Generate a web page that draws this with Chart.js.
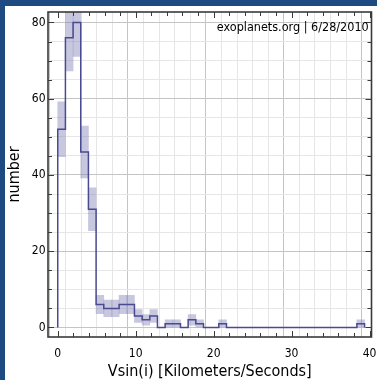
<!DOCTYPE html>
<html>
<head>
<meta charset="utf-8">
<script src="https://cdn.jsdelivr.net/npm/chart.js@4/dist/chart.umd.min.js"></script>
<style>
  html, body { margin: 0; padding: 0; background: #1d4a80; }
  #panel { position: absolute; left: 5px; top: 6px; width: 372px; height: 374px; background: #fff; }
  canvas { display: block; }
</style>
</head>
<body>
<div id="panel"><canvas id="chart" width="372" height="374"></canvas></div>
<script>
// histogram of Vsin(i), 40 bins starting at 0
const binWidth = 0.984;
const counts = [52, 76, 80, 46, 31, 6, 5, 5, 6, 6,
                3, 2, 3, 0, 1, 1, 0, 2, 1, 0,
                0, 1, 0, 0, 0, 0, 0, 0, 0, 0,
                0, 0, 0, 0, 0, 0, 0, 0, 0, 1];
// +/- band height per bin
const errors = [7.2, 8.7, 8.9, 6.8, 5.6, 2.4, 2.2, 2.2, 2.4, 2.4,
                1.7, 1.4, 1.7, 0, 1, 1, 0, 1.4, 1, 0,
                0, 1, 0, 0, 0, 0, 0, 0, 0, 0,
                0, 0, 0, 0, 0, 0, 0, 0, 0, 1];
const xLabels = [0, 10, 20, 30, 40];
const yLabels = [0, 20, 40, 60, 80];

const FONT = '"DejaVu Sans Condensed", "DejaVu Sans", sans-serif';
const majorGrid = '#c4c4c4', minorGrid = '#e6e6e6';

// step outline: left edge of each bin, closed at both ends
const stepPts = [{x: 0, y: 0}];
counts.forEach((c, i) => stepPts.push({x: i * binWidth, y: c}));
stepPts.push({x: counts.length * binWidth, y: counts[counts.length - 1]});
stepPts.push({x: counts.length * binWidth, y: 0});

// shaded error band per bin
const bands = [];
counts.forEach((c, i) => {
  if (errors[i] > 0) bands.push({x: (i + 0.5) * binWidth, y: [c - errors[i], c + errors[i]]});
});

const gridColor = labels => c => (c.tick && labels.includes(c.tick.value)) ? majorGrid : minorGrid;

const frame = {
  id: 'frame',
  afterDraw(chart) {
    const {ctx, chartArea: a, scales: {x, y}} = chart;
    ctx.save();
    ctx.strokeStyle = '#3a3a3a';
    ctx.lineWidth = 1;
    const seg = (x1, y1, x2, y2) => { ctx.beginPath(); ctx.moveTo(x1, y1); ctx.lineTo(x2, y2); ctx.stroke(); };
    x.ticks.forEach(t => {
      const px = Math.round(x.getPixelForValue(t.value)) + 0.5;
      const len = xLabels.includes(t.value) ? 6 : 4;
      seg(px, a.bottom, px, a.bottom - len);
      seg(px, a.top, px, a.top + len);
    });
    y.ticks.forEach(t => {
      const py = Math.round(y.getPixelForValue(t.value)) + 0.5;
      const len = yLabels.includes(t.value) ? 6 : 4;
      seg(a.left, py, a.left + len, py);
      seg(a.right, py, a.right - len, py);
    });
    ctx.lineWidth = 1.6;
    ctx.strokeRect(a.left, a.top, a.right - a.left, a.bottom - a.top);
    ctx.fillStyle = '#000';
    ctx.font = '12.5px ' + FONT;
    ctx.textAlign = 'right';
    ctx.textBaseline = 'alphabetic';
    ctx.fillText('exoplanets.org | 6/28/2010', a.right - 2.8, a.top + 18.5);
    ctx.restore();
  }
};

new Chart(document.getElementById('chart'), {
  type: 'line',
  data: {
    datasets: [
      {
        type: 'line',
        data: stepPts,
        stepped: true,
        borderColor: '#4a4a90',
        borderWidth: 1.5,
        pointRadius: 0,
        fill: false,
        order: 0,
        clip: 0
      },
      {
        type: 'bar',
        data: bands,
        backgroundColor: 'rgba(130,130,185,0.45)',
        borderWidth: 0,
        barPercentage: 1,
        categoryPercentage: 1,
        grouped: false,
        order: 1,
        clip: 0
      }
    ]
  },
  options: {
    responsive: false,
    animation: false,
    events: [],
    layout: {padding: {left: 0, top: 6, right: 5.5, bottom: 0}},
    plugins: {legend: {display: false}, tooltip: {enabled: false}},
    scales: {
      x: {
        type: 'linear',
        min: -1.25,
        max: 40.25,
        offset: false,
        border: {display: false},
        grid: {color: gridColor(xLabels), drawTicks: false},
        ticks: {
          stepSize: 2,
          includeBounds: false,
          autoSkip: false,
          maxRotation: 0,
          padding: 10,
          color: '#000',
          font: {family: FONT, size: 12},
          callback: v => xLabels.includes(v) ? String(v) : ''
        },
        title: {
          display: true,
          text: 'Vsin(i) [Kilometers/Seconds]',
          color: '#000',
          font: {family: FONT, size: 16, lineHeight: 1},
          padding: 0
        },
        afterFit: s => { s.height = 43; s.paddingLeft = 0; s.paddingRight = 0; }
      },
      y: {
        type: 'linear',
        min: -2.5,
        max: 82.75,
        border: {display: false},
        grid: {color: gridColor(yLabels), drawTicks: false},
        ticks: {
          stepSize: 5,
          includeBounds: false,
          autoSkip: false,
          padding: 2.5,
          color: '#000',
          font: {family: FONT, size: 12},
          callback: v => yLabels.includes(v) ? String(v) : ''
        },
        title: {
          display: true,
          text: 'number',
          color: '#000',
          font: {family: FONT, size: 16, lineHeight: 1},
          padding: {top: 2.2, bottom: 0}
        },
        afterFit: s => { s.width = 43; s.paddingTop = 0; s.paddingBottom = 0; }
      }
    }
  },
  plugins: [frame]
});
</script>
</body>
</html>
